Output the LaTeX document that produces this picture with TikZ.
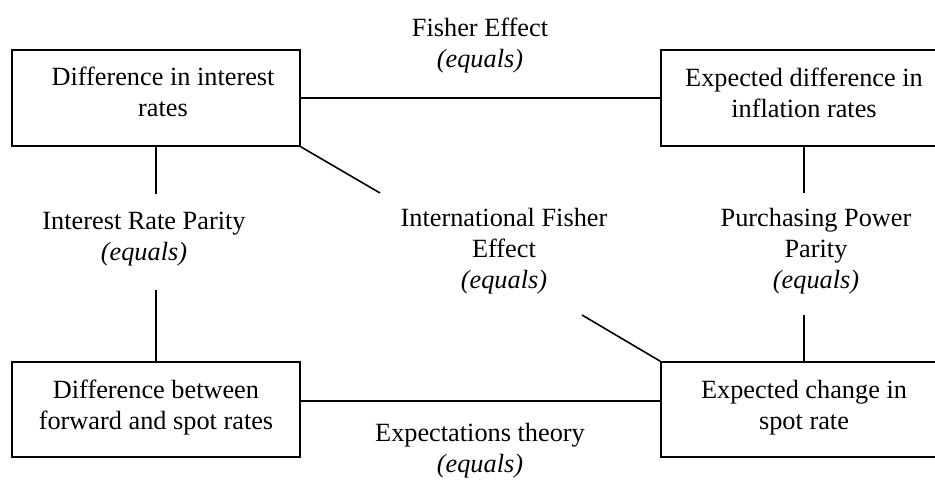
\documentclass[tikz,border=0pt]{standalone}
\usepackage{fontspec}
\setmainfont{Liberation Serif}
\begin{document}
\begin{tikzpicture}[x=1pt,y=-1pt,line width=1.6pt,
  box/.style={draw,rectangle,inner sep=0pt,minimum width=#1,minimum height=96pt},
  txt/.style={align=center,inner sep=0pt,anchor=base,font=\fontsize{26.3}{30.8}\selectfont}]
\useasboundingbox (0,0) rectangle (935,480);
% boxes
\node[box=288pt] (tl) at (156,98) {};
\node[box=279pt] (tr) at (800.5,98) {};
\node[box=288pt,minimum height=95pt] (bl) at (156,409.5) {};
\node[box=279pt,minimum height=95pt] (br) at (800.5,409.5) {};
% box texts (anchored at the baseline of the last line)
\node[txt] (ttl) at (163,116) {Difference in interest\\rates};
\node[txt] (ttr) at (804,117) {Expected difference in\\inflation rates};
\node[txt] (tbl) at (156,429) {Difference between\\forward and spot rates};
\node[txt] (tbr) at (804,429) {Expected change in\\spot rate};
% relation labels
\node[txt] (fe) at (480,67) {Fisher Effect\\\textit{(equals)}};
\node[txt] (irp) at (144,260) {Interest Rate Parity\\\textit{(equals)}};
\node[txt] (ife) at (504,288) {International Fisher\\Effect\\\textit{(equals)}};
\node[txt] (ppp) at (816,288) {Purchasing Power\\Parity\\\textit{(equals)}};
\node[txt] (et) at (480,472) {Expectations theory\\\textit{(equals)}};
% gap ends
\coordinate (l1) at (156,194);
\coordinate (l2) at (156,290);
\coordinate (r1) at (804,193);
\coordinate (r2) at (804,315);
\coordinate (d1) at (380,193);
\coordinate (d2) at (582,315);
\coordinate (hb) at (0,401);
% connectors
\draw (tl.east) -- (tl.east -| tr.west);
\draw (bl.east |- hb) -- (br.west |- hb);
\draw (tl.south) -- (l1);
\draw (l2) -- (bl.north);
\draw (r1 |- tr.south) -- (r1);
\draw (r2) -- (r2 |- br.north);
\draw (tl.south east) -- (d1);
\draw (d2) -- (br.north west);
\end{tikzpicture}
\end{document}
